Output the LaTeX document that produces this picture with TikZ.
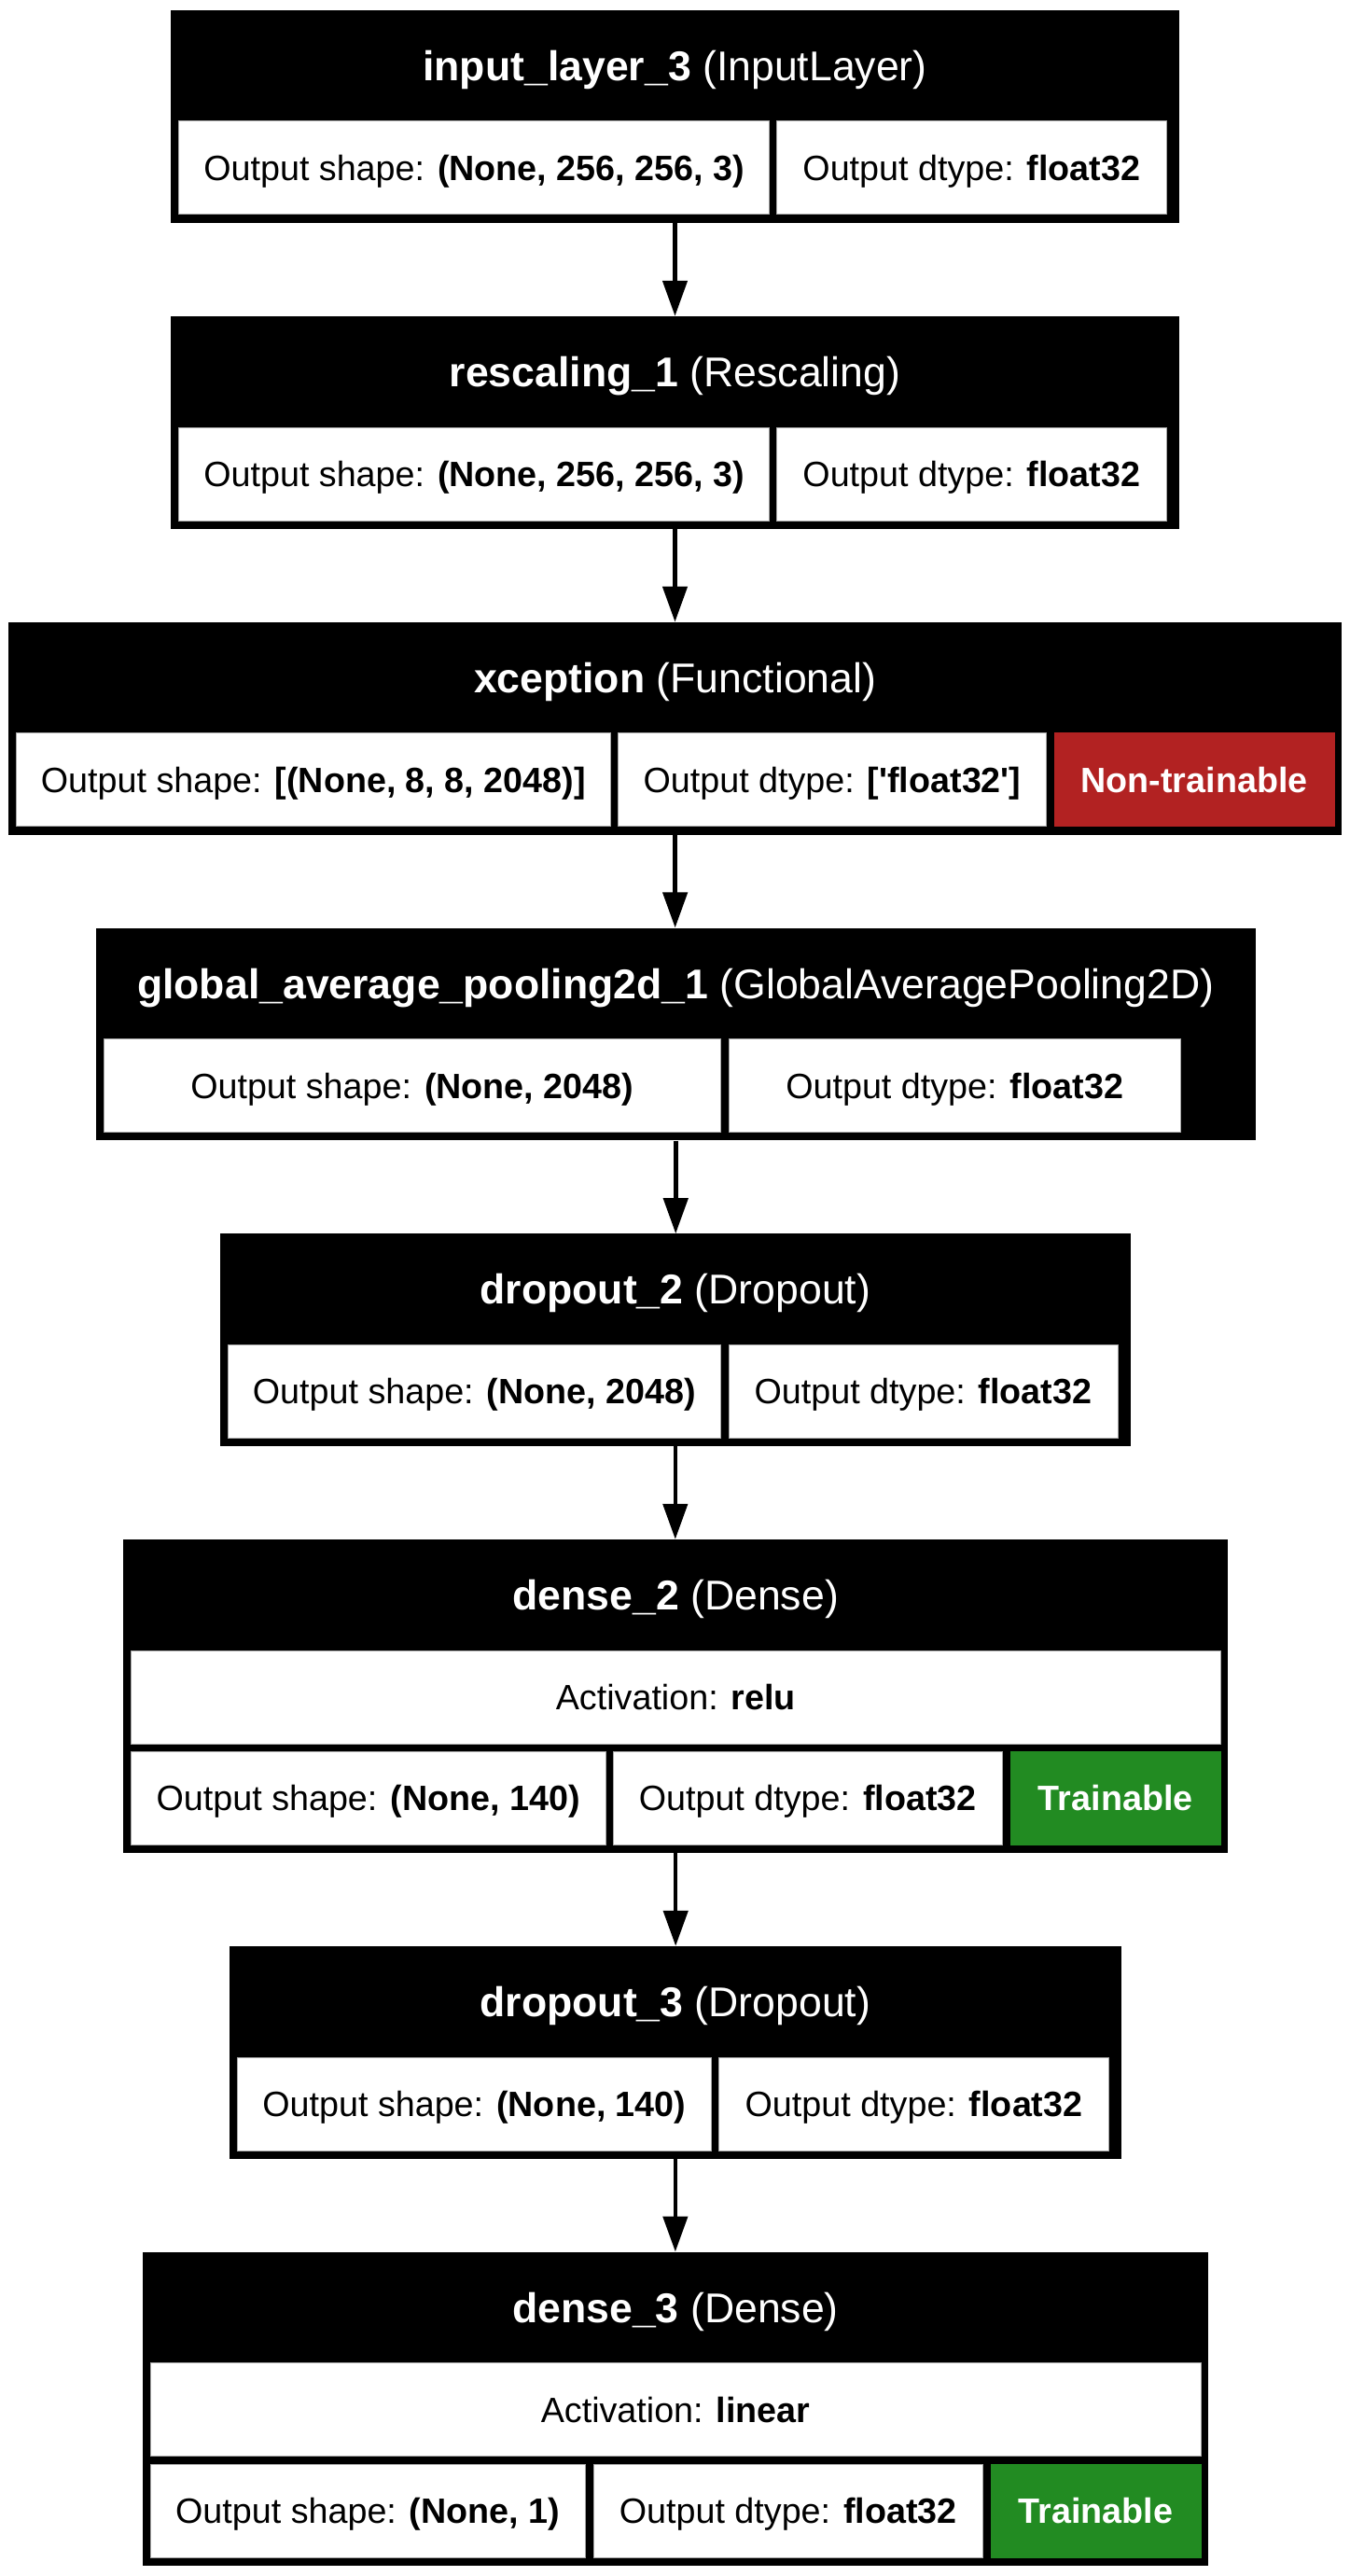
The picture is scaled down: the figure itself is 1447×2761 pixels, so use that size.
\documentclass[tikz,border=0pt]{standalone}
\usepackage{fontspec}
\setmainfont{Liberation Sans}
\usetikzlibrary{arrows.meta}
\definecolor{ntred}{HTML}{B22222}
\definecolor{trgreen}{HTML}{228B22}
\tikzset{
  layerbox/.style={rectangle, fill=black, draw=none, inner sep=0pt},
  hdr/.style={text=white, inner sep=0pt, text height=32pt, text depth=0pt, font=\fontsize{44.6}{53}\selectfont},
  cell/.style={rectangle, fill=white, draw=black!35, line width=1pt, inner sep=0pt, minimum height=100pt, text height=27pt, text depth=0pt, font=\fontsize{37.7}{45}\selectfont},
  redcell/.style={cell, fill=ntred, draw=ntred, text=white, font=\fontsize{37.7}{45}\selectfont\bfseries},
  greencell/.style={cell, fill=trgreen, draw=trgreen, text=white, font=\fontsize{37.7}{45}\selectfont\bfseries},
  flow/.style={line width=4.5pt, -{Triangle[length=38pt,width=26pt]}}
}
\begin{document}
\begin{tikzpicture}[x=1pt,y=-1pt]
\useasboundingbox[fill=white] (0,0) rectangle (1447,2761);

% input_layer_3
\node[layerbox, minimum width=1080.4pt, minimum height=227.7pt] (b1) at (723.5,124.85) {};
\node[hdr] (b1h) at (723.5,70.5) {\textbf{input\_layer\_3} (InputLayer)};
\node[cell, minimum width=633.2pt] (b1s) at (508.2,180) {Output shape: \textbf{(None, 256, 256, 3)}};
\node[cell, minimum width=417.3pt] (b1t) at (1041.35,180) {Output dtype: \textbf{float32}};

% rescaling_1
\node[layerbox, minimum width=1080.4pt, minimum height=227.7pt] (b2) at (723.5,452.85) {};
\node[hdr] (b2h) at (723.5,398.5) {\textbf{rescaling\_1} (Rescaling)};
\node[cell, minimum width=633.2pt] (b2s) at (508.2,508) {Output shape: \textbf{(None, 256, 256, 3)}};
\node[cell, minimum width=417.3pt] (b2t) at (1041.35,508) {Output dtype: \textbf{float32}};

% xception
\node[layerbox, minimum width=1428.7pt, minimum height=227.7pt] (b3) at (723.65,780.65) {};
\node[hdr] (b3h) at (723.65,726.3) {\textbf{xception} (Functional)};
\node[cell, minimum width=636.3pt] (b3s) at (335.85,835.8) {Output shape: \textbf{[(None, 8, 8, 2048)]}};
\node[cell, minimum width=459pt] (b3t) at (892,835.8) {Output dtype: \textbf{[\textquotesingle float32\textquotesingle]}};
\node[redcell, minimum width=300pt] (b3n) at (1280,835.8) {Non-trainable};

% global_average_pooling2d_1
\node[layerbox, minimum width=1243.1pt, minimum height=227.7pt] (b4) at (724.25,1108.45) {};
\node[hdr] (b4h) at (724.25,1054.1) {\textbf{global\_average\_pooling2d\_1} (GlobalAveragePooling2D)};
\node[cell, minimum width=661.5pt] (b4s) at (441.75,1163.6) {Output shape: \textbf{(None, 2048)}};
\node[cell, minimum width=484.4pt] (b4t) at (1023.2,1163.6) {Output dtype: \textbf{float32}};

% dropout_2
\node[layerbox, minimum width=975.6pt, minimum height=227.7pt] (b5) at (723.8,1436.25) {};
\node[hdr] (b5h) at (723.8,1381.9) {\textbf{dropout\_2} (Dropout)};
\node[cell, minimum width=528.2pt] (b5s) at (508.4,1491.4) {Output shape: \textbf{(None, 2048)}};
\node[cell, minimum width=417pt] (b5t) at (989.5,1491.4) {Output dtype: \textbf{float32}};

% dense_2
\node[layerbox, minimum width=1184.4pt, minimum height=336pt] (b6) at (724.2,1818) {};
\node[hdr] (b6h) at (724.2,1709.5) {\textbf{dense\_2} (Dense)};
\node[cell, minimum width=1168.1pt] (b6a) at (724.35,1819) {Activation: \textbf{relu}};
\node[cell, minimum width=508.7pt] (b6s) at (394.65,1927.3) {Output shape: \textbf{(None, 140)}};
\node[cell, minimum width=417.4pt] (b6t) at (865.7,1927.3) {Output dtype: \textbf{float32}};
\node[greencell, minimum width=225.4pt] (b6g) at (1195.7,1927.3) {Trainable};

% dropout_3
\node[layerbox, minimum width=956.3pt, minimum height=227.7pt] (b7) at (723.85,2199.85) {};
\node[hdr] (b7h) at (723.85,2145.5) {\textbf{dropout\_3} (Dropout)};
\node[cell, minimum width=508.8pt] (b7s) at (508.4,2255) {Output shape: \textbf{(None, 140)}};
\node[cell, minimum width=417.5pt] (b7t) at (979.55,2255) {Output dtype: \textbf{float32}};

% dense_3
\node[layerbox, minimum width=1142.7pt, minimum height=336pt] (b8) at (724.05,2581.7) {};
\node[hdr] (b8h) at (724.05,2473.2) {\textbf{dense\_3} (Dense)};
\node[cell, minimum width=1126pt] (b8a) at (724,2582.7) {Activation: \textbf{linear}};
\node[cell, minimum width=466.4pt] (b8s) at (394.2,2691) {Output shape: \textbf{(None, 1)}};
\node[cell, minimum width=417.5pt] (b8t) at (844.75,2691) {Output dtype: \textbf{float32}};
\node[greencell, minimum width=225pt] (b8g) at (1174.5,2691) {Trainable};

% connectors
\draw[flow] (b1.south) -- (b1.south |- b2.north);
\draw[flow] (b2.south) -- (b2.south |- b3.north);
\draw[flow] (b3.south) -- (b3.south |- b4.north);
\draw[flow] (b4.south) -- (b4.south |- b5.north);
\draw[flow] (b5.south) -- (b5.south |- b6.north);
\draw[flow] (b6.south) -- (b6.south |- b7.north);
\draw[flow] (b7.south) -- (b7.south |- b8.north);
\end{tikzpicture}
\end{document}
